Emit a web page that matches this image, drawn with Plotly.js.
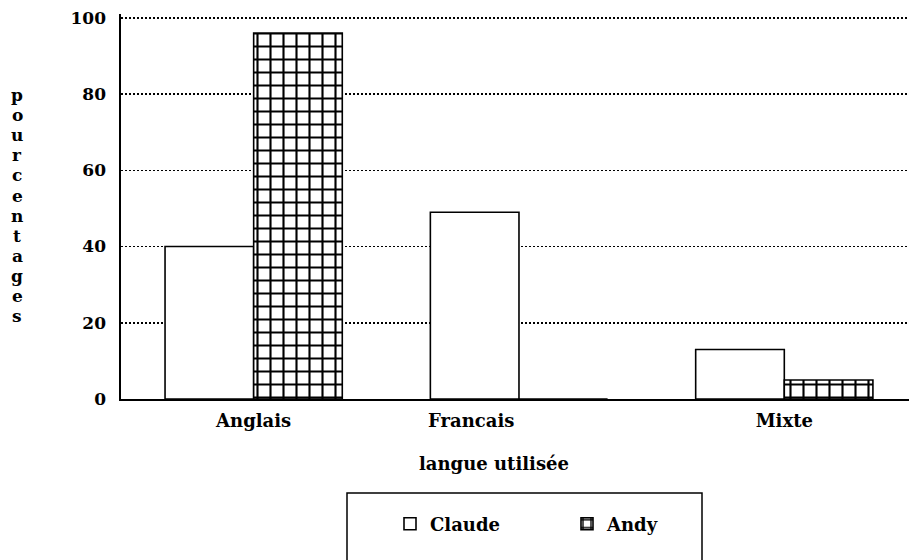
<!DOCTYPE html>
<html>
<head>
<meta charset="utf-8">
<script src="https://cdn.plot.ly/plotly-3.0.1.min.js"></script>
<style>html,body{margin:0;padding:0;background:#fff}#chart{width:910px;height:560px}</style>
</head>
<body>
<div id="chart"></div>
<script>
const categories = ["Anglais", "Francais", "Mixte"];
const claude = [40, 49, 13];
const andy = [96, 0, 5];
const yTicks = [0, 20, 40, 60, 80, 100];
const xTitle = "langue utilisée";
const yTitle = "pourcentages";

const fontFam = "DejaVu Serif";
const idx = categories.map((c, i) => i);

const traces = [
  {
    type: "bar", name: "Claude", x: idx, y: claude,
    marker: {color: "#ffffff", line: {color: "#000", width: 1.6}},
    hoverinfo: "skip"
  },
  {
    type: "bar", name: "Andy", x: idx, y: andy,
    marker: {color: "#ffffff", line: {color: "#000", width: 1.6},
      pattern: {shape: "+", size: 13, solidity: 0.3, fgcolor: "#000", fgopacity: 1, bgcolor: "#fff", fillmode: "overlay"}},
    hoverinfo: "skip"
  }
];

// label positions: Francais label sits under its Claude bar in the original
const tickPos = [0, 0.82, 2];

// plot area geometry (px) used for placing free text
const plotL = 121, plotW = 788, plotB = 399, plotT = 14, plotH = plotB - plotT;
const px2x = p => (p - plotL) / plotW;
const px2y = p => (plotB - p) / plotH;

const yTitleAnn = yTitle.split("").map((ch, i) => ({
  text: ch, xref: "paper", yref: "paper", x: px2x(17), y: px2y(95 + i * 20.1),
  showarrow: false, xanchor: "center", yanchor: "middle",
  font: {family: fontFam, weight: "bold", size: 17}
}));

const layout = {
  width: 910, height: 560,
  margin: {l: plotL, r: 1, t: plotT, b: 560 - plotB},
  paper_bgcolor: "#fff", plot_bgcolor: "#fff",
  font: {family: fontFam, weight: "bold", color: "#000", size: 18},
  barmode: "group", bargap: 0.332, bargroupgap: 0,
  showlegend: true,
  xaxis: {
    range: [-0.5, 2.47], tickvals: tickPos, ticktext: categories,
    showgrid: false, zeroline: false, showline: true, linecolor: "#000", linewidth: 1.6,
    ticks: "", ticklabelstandoff: 5, tickfont: {family: fontFam, weight: "bold", size: 18},
    fixedrange: true
  },
  yaxis: {
    range: [0, 101], tickvals: yTicks,
    showgrid: true, gridcolor: "#000", gridwidth: 1.5, griddash: "1.5px,2.5px",
    zeroline: false, showline: true, linecolor: "#000", linewidth: 1.6,
    ticks: "", ticklabelstandoff: 10, tickfont: {family: fontFam, weight: "bold", size: 17},
    fixedrange: true
  },
  legend: {
    orientation: "h", x: px2x(390), xanchor: "left", y: px2y(524), yanchor: "middle",
    font: {family: fontFam, weight: "bold", size: 18}, bgcolor: "rgba(0,0,0,0)",
    borderwidth: 0, entrywidth: 132, entrywidthmode: "pixels"
  },
  shapes: [
    {type: "rect", xref: "paper", yref: "paper",
     x0: px2x(347), x1: px2x(702), y0: px2y(493), y1: px2y(575),
     line: {color: "#000", width: 1.5}, fillcolor: "rgba(0,0,0,0)"}
  ],
  annotations: [
    {text: xTitle, xref: "paper", yref: "paper", x: px2x(494), y: px2y(463),
     showarrow: false, xanchor: "center", yanchor: "middle",
     font: {family: fontFam, weight: "bold", size: 18}}
  ].concat(yTitleAnn)
};

Plotly.newPlot("chart", traces, layout, {displayModeBar: false, staticPlot: true});
</script>
</body>
</html>
